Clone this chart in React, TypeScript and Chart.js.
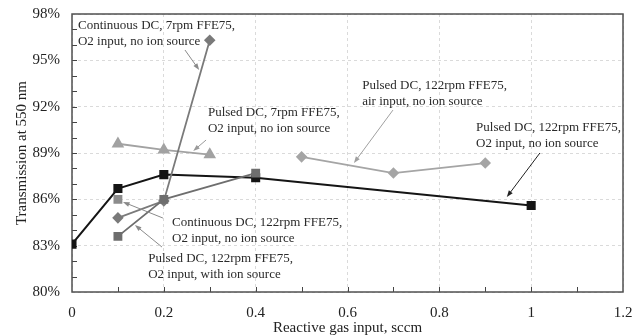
import React, { useEffect, useRef } from 'react';
import { Chart, registerables } from 'chart.js';

Chart.register(...registerables);

const FONT = "'Liberation Serif', 'Times New Roman', serif";

// Series data (x = reactive gas input, sccm; y = transmission %)
const pulsed122O2X = [0, 0.1, 0.2, 0.4, 1.0];
const pulsed122O2Y = [83.1, 86.7, 87.6, 87.4, 85.6];

const cont7X = [0.1, 0.2, 0.3];
const cont7Y = [84.8, 85.9, 96.3];

const pulsedIonX = [0.1, 0.2, 0.4];
const pulsedIonY = [83.6, 86.0, 87.7];

const cont122X = [0.1];
const cont122Y = [86.0];

const pulsed7X = [0.1, 0.2, 0.3];
const pulsed7Y = [89.6, 89.2, 88.9];

const airX = [0.5, 0.7, 0.9];
const airY = [88.75, 87.7, 88.35];

// Axis ticks
const xTickValues = [0, 0.2, 0.4, 0.6, 0.8, 1.0, 1.2];
const xTickLabels = ['0', '0.2', '0.4', '0.6', '0.8', '1', '1.2'];
const yTickValues = [80, 83, 86, 89, 92, 95, 98];
const yTickLabels = ['80%', '83%', '86%', '89%', '92%', '95%', '98%'];
const xMinorTicks = [0.1, 0.2, 0.3, 0.4, 0.5, 0.6, 0.7, 0.8, 0.9, 1.0, 1.1];
const yMinorTicks = [81, 82, 83, 84, 85, 86, 87, 88, 89, 90, 91, 92, 93, 94, 95, 96, 97];

// Callout labels (anchors in data units)
const calloutTexts = [
  ['Continuous DC, 7rpm FFE75,', 'O2 input, no ion source'],
  ['Pulsed DC, 7rpm FFE75,', 'O2 input, no ion source'],
  ['Pulsed DC, 122rpm FFE75,', 'air input, no ion source'],
  ['Pulsed DC, 122rpm FFE75,', 'O2 input, no ion source'],
  ['Continuous DC, 122rpm FFE75,', 'O2 input, no ion source'],
  ['Pulsed DC, 122rpm FFE75,', 'O2 input, with ion source'],
];
const calloutAnchorX = [0.013, 0.296, 0.632, 0.88, 0.218, 0.166];
const calloutAnchorY = [97.24, 91.61, 93.35, 90.64, 84.49, 82.14];
const arrowFromX = [0.246, 0.292, 0.699, 1.019, 0.198, 0.196];
const arrowFromY = [95.67, 89.84, 91.78, 89.0, 84.79, 82.91];
const arrowToX = [0.277, 0.264, 0.614, 0.947, 0.111, 0.137];
const arrowToY = [94.37, 89.13, 88.35, 86.15, 85.83, 84.34];
const arrowColors = ['#8a8a8a', '#9a9a9a', '#a0a0a0', '#222222', '#8a8a8a', '#8a8a8a'];

const toPoints = (xs: number[], ys: number[]) => xs.map((x, i) => ({ x, y: ys[i] }));

const overlayPlugin = {
  id: 'overlay',
  beforeDatasetsDraw(chart: any) {
    const { ctx, chartArea } = chart;
    const xs = chart.scales.x;
    const ys = chart.scales.y;
    ctx.save();
    ctx.strokeStyle = '#444';
    ctx.lineWidth = 1;
    yMinorTicks.forEach((v) => {
      const py = Math.round(ys.getPixelForValue(v)) + 0.5;
      ctx.beginPath();
      ctx.moveTo(chartArea.left, py);
      ctx.lineTo(chartArea.left + 5, py);
      ctx.stroke();
    });
    xMinorTicks.forEach((v) => {
      const px = Math.round(xs.getPixelForValue(v)) + 0.5;
      ctx.beginPath();
      ctx.moveTo(px, chartArea.bottom);
      ctx.lineTo(px, chartArea.bottom - 5);
      ctx.stroke();
    });
    ctx.strokeStyle = '#505050';
    ctx.lineWidth = 1.5;
    ctx.strokeRect(chartArea.left, chartArea.top, chartArea.right - chartArea.left, chartArea.bottom - chartArea.top);
    ctx.restore();
  },
  afterDatasetsDraw(chart: any) {
    const { ctx } = chart;
    const xs = chart.scales.x;
    const ys = chart.scales.y;
    ctx.save();
    ctx.font = `13px ${FONT}`;
    ctx.fillStyle = '#2a2a2a';
    ctx.textBaseline = 'middle';
    ctx.textAlign = 'left';
    calloutTexts.forEach((lines, i) => {
      const px = xs.getPixelForValue(calloutAnchorX[i]);
      const py = ys.getPixelForValue(calloutAnchorY[i]);
      lines.forEach((t, j) => ctx.fillText(t, px, py + j * 16));
    });
    calloutTexts.forEach((_, i) => {
      const x1 = xs.getPixelForValue(arrowFromX[i]);
      const y1 = ys.getPixelForValue(arrowFromY[i]);
      const x2 = xs.getPixelForValue(arrowToX[i]);
      const y2 = ys.getPixelForValue(arrowToY[i]);
      const ang = Math.atan2(y2 - y1, x2 - x1);
      const head = 7;
      ctx.strokeStyle = arrowColors[i];
      ctx.fillStyle = arrowColors[i];
      ctx.lineWidth = 1;
      ctx.beginPath();
      ctx.moveTo(x1, y1);
      ctx.lineTo(x2 - Math.cos(ang) * head * 0.8, y2 - Math.sin(ang) * head * 0.8);
      ctx.stroke();
      ctx.beginPath();
      ctx.moveTo(x2, y2);
      ctx.lineTo(x2 - head * Math.cos(ang - 0.35), y2 - head * Math.sin(ang - 0.35));
      ctx.lineTo(x2 - head * Math.cos(ang + 0.35), y2 - head * Math.sin(ang + 0.35));
      ctx.closePath();
      ctx.fill();
    });
    ctx.restore();
  },
};

export default function App() {
  const ref = useRef<HTMLCanvasElement | null>(null);

  useEffect(() => {
    if (!ref.current) return;
    const mk = (data: any[], color: string, pointStyle: string, radius: number, order: number, width = 1.8) => ({
      data,
      borderColor: color,
      backgroundColor: color,
      pointBackgroundColor: color,
      pointBorderColor: color,
      pointStyle,
      pointRadius: radius,
      borderWidth: width,
      showLine: true,
      tension: 0,
      order,
    });
    const chart = new Chart(ref.current, {
      type: 'scatter',
      data: {
        datasets: [
          mk(toPoints(pulsed122O2X, pulsed122O2Y), '#151515', 'rect', 5, 6, 2),
          mk(toPoints(pulsed7X, pulsed7Y), '#a2a2a2', 'triangle', 5.5, 5),
          mk(toPoints(airX, airY), '#a5a5a5', 'rectRot', 4.5, 4),
          mk(toPoints(cont7X, cont7Y), '#7a7a7a', 'rectRot', 4.5, 3),
          mk(toPoints(pulsedIonX, pulsedIonY), '#6e6e6e', 'rect', 5, 2),
          mk(toPoints(cont122X, cont122Y), '#8c8c8c', 'rect', 5, 1),
        ] as any,
      },
      options: {
        animation: false,
        responsive: false,
        devicePixelRatio: 1,
        layout: { padding: { left: 0, top: 14, right: 12, bottom: 0 } },
        plugins: { legend: { display: false }, tooltip: { enabled: false } },
        scales: {
          x: {
            type: 'linear',
            min: 0,
            max: 1.2,
            afterBuildTicks: (s: any) => {
              s.ticks = xTickValues.map((v) => ({ value: v }));
            },
            afterFit: (s: any) => {
              s.height = 43;
              s.paddingLeft = 0;
              s.paddingRight = 0;
            },
            ticks: {
              callback: (_v: any, i: number) => xTickLabels[i],
              font: { family: FONT, size: 15 },
              color: '#222',
              padding: 12,
              maxRotation: 0,
            },
            grid: { color: '#dadada', drawTicks: false, lineWidth: 1 },
            border: { display: false, dash: [3, 3] },
            title: {
              display: true,
              text: 'Reactive gas input, sccm',
              font: { family: FONT, size: 15, lineHeight: 0.9 },
              color: '#222',
              padding: { top: 0, bottom: 0 },
            },
          },
          y: {
            type: 'linear',
            min: 80,
            max: 98,
            afterBuildTicks: (s: any) => {
              s.ticks = yTickValues.map((v) => ({ value: v }));
            },
            afterFit: (s: any) => {
              s.width = 72;
              s.paddingTop = 0;
              s.paddingBottom = 0;
            },
            ticks: {
              callback: (_v: any, i: number) => yTickLabels[i],
              font: { family: FONT, size: 15 },
              color: '#222',
              padding: 12,
            },
            grid: { color: '#dadada', drawTicks: false, lineWidth: 1 },
            border: { display: false, dash: [3, 3] },
            title: {
              display: true,
              text: 'Transmission at 550 nm',
              font: { family: FONT, size: 15 },
              color: '#222',
              padding: { top: 13, bottom: 0 },
            },
          },
        },
      },
      plugins: [overlayPlugin],
    } as any);
    return () => chart.destroy();
  }, []);

  return (
    <div style={{ position: 'absolute', left: 0, top: 0, width: 635, height: 335, background: '#fff' }}>
      <canvas ref={ref} width={635} height={335} style={{ display: 'block' }} />
    </div>
  );
}
